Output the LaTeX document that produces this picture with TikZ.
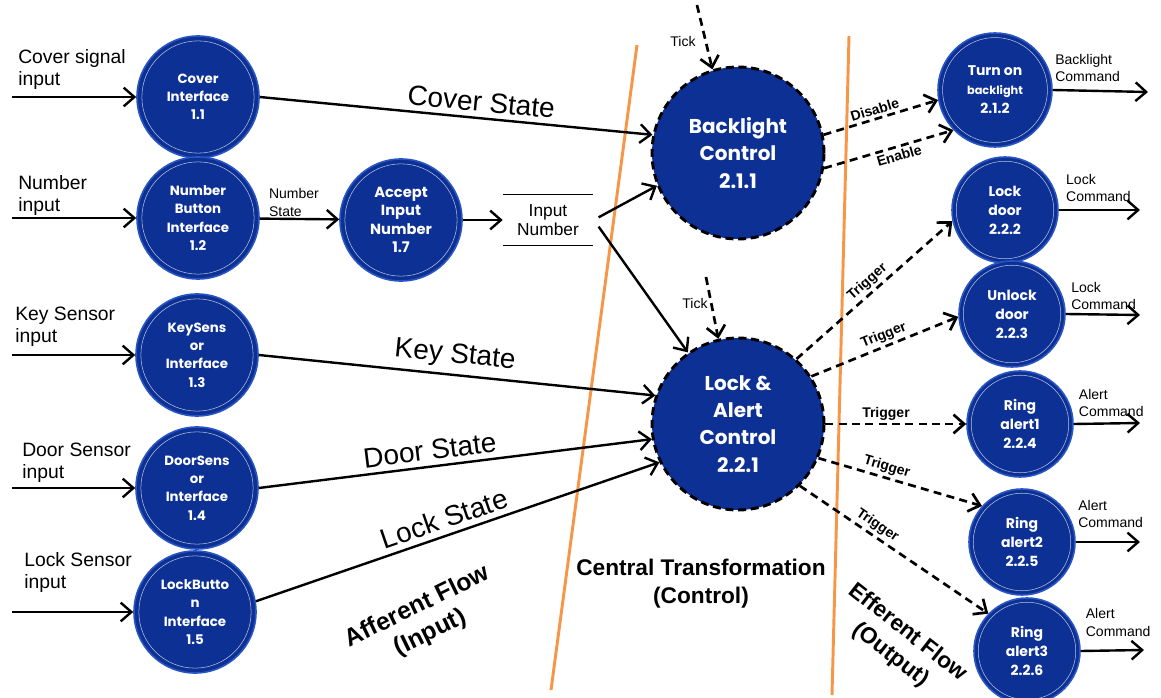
\documentclass[tikz,border=0pt]{standalone}
\usepackage{fontspec}
\setmainfont{Liberation Sans}
\newfontfamily\procfont{Poppins}
\usetikzlibrary{arrows.meta,positioning,calc}
\definecolor{procblue}{RGB}{12,48,148}
\definecolor{rimblue}{RGB}{40,85,195}
\definecolor{divorange}{RGB}{247,150,70}

\begin{document}
\begin{tikzpicture}[
    x=0.75pt, y=-0.75pt,
    proc/.style={circle, fill=procblue, draw=rimblue, line width=1.2pt,
        minimum size=#1, inner sep=0pt, text=white, align=center,
        path picture={\draw[white!70!procblue, line width=0.4pt]
            (path picture bounding box.center) circle[radius=0.46*#1];}},
    lfont/.style={font=\procfont\bfseries\fontsize{10pt}{13.7pt}\selectfont},
    rfont/.style={font=\procfont\bfseries\fontsize{10.5pt}{14.3pt}\selectfont},
    ctrl/.style={circle, fill=procblue, draw=black, line width=2.2pt,
        dash pattern=on 6pt off 3.5pt, minimum size=129pt, inner sep=0pt,
        text=white, align=center,
        font=\procfont\bfseries\fontsize{15pt}{20.5pt}\selectfont},
    flow/.style={-{Straight Barb[length=8pt,width=14pt]}, line width=1.8pt},
    sig/.style={flow, line width=2pt, dash pattern=on 6pt off 4pt},
    lbl/.style={font=\fontsize{14.5pt}{16.5pt}\selectfont, align=left, inner sep=0pt},
    statelbl/.style={font=\fontsize{21pt}{24pt}\selectfont, sloped, above, inner sep=4pt},
    tiny/.style={font=\fontsize{10.5pt}{13pt}\selectfont, align=left, inner sep=1pt},
    trig/.style={font=\bfseries\fontsize{10.5pt}{12pt}\selectfont, sloped, inner sep=2pt},
    section/.style={font=\bfseries\fontsize{17pt}{21pt}\selectfont, align=center},
    divider/.style={divorange, line width=2.2pt}
]
    \useasboundingbox (0,0) rectangle (1161,698);

    % Boundaries
    \draw[divider] (637,45) -- (551,690);
    \draw[divider] (849,36) -- (832,695);

    % Afferent side
    \node[proc=91.5pt, lfont] (cover) at (198,97) {Cover\\Interface\\1.1};
    \node[proc=91.5pt, lfont] (numbtn) at (198,218) {Number\\Button\\Interface\\1.2};
    \node[proc=91.5pt, lfont] (keysens) at (197,355) {KeySens\\or\\Interface\\1.3};
    \node[proc=91.5pt, lfont] (doorsens) at (197,488) {DoorSens\\or\\Interface\\1.4};
    \node[proc=91.5pt, lfont] (lockbtn) at (195,612) {LockButto\\n\\Interface\\1.5};
    \node[proc=91.5pt, font=\procfont\bfseries\fontsize{11pt}{13.7pt}\selectfont] (accept) at (401,220) {Accept\\Input\\Number\\1.7};

    \node[lbl, anchor=west] (lcover) at (18,70) {Cover signal\\input};
    \node[lbl, anchor=west] (lnumber) at (18,196) {Number\\input};
    \node[lbl, anchor=west] (lkey) at (15,327) {Key Sensor\\input};
    \node[lbl, anchor=west] (ldoor) at (22,463) {Door Sensor\\input};
    \node[lbl, anchor=west] (llock) at (24,573) {Lock Sensor\\input};

    \coordinate (incover) at (12,97);
    \coordinate (innumber) at (12,218);
    \coordinate (inkey) at (12,355);
    \coordinate (indoor) at (12,488);
    \coordinate (inlock) at (12,612);
    \draw[flow] (incover) -- (cover);
    \draw[flow] (innumber) -- (numbtn);
    \draw[flow] (inkey) -- (keysens);
    \draw[flow] (indoor) -- (doorsens);
    \draw[flow] (inlock) -- (lockbtn);

    % Data store
    \node[font=\fontsize{13pt}{14.3pt}\selectfont, align=center,
        minimum width=67.5pt, minimum height=38pt] (store) at (548,220) {Input\\Number};
    \draw[line width=1pt] (store.north west) -- (store.north east);
    \draw[line width=1pt] (store.south west) -- (store.south east);

    \draw[flow] (numbtn) -- (accept) node[tiny, pos=0.43, above] {Number\\State};
    \draw[flow] (accept) -- (store.west);

    % Central transformation
    \node[ctrl] (bl) at (738,153) {Backlight\\Control\\2.1.1};
    \node[ctrl] (la) at (738,424) {Lock \&\\Alert\\Control\\2.2.1};

    \draw[flow] (cover.east) -- (bl.168) node[statelbl, pos=0.56] {Cover State};
    \draw[flow] (keysens.east) -- (la.161) node[statelbl, pos=0.49] {Key State};
    \draw[flow] (doorsens.east) -- (la.190) node[statelbl, pos=0.44] {Door State};
    \draw[flow] (lockbtn.10) -- (la.206) node[statelbl, pos=0.48] {Lock State};
    \draw[flow] ([xshift=4pt,yshift=2pt]store.east) -- (bl.202);
    \draw[flow] ([xshift=4pt,yshift=-5pt]store.east) -- (la.125);

    \coordinate (tickbl) at (697,5);
    \coordinate (tickla) at (706,277);
    \draw[sig] (tickbl) -- (bl.107);
    \draw[sig] (tickla) -- (la.103);
    \node[tiny] (ticka) at (683,42) {Tick};
    \node[tiny] (tickb) at (695,303) {Tick};

    % Efferent side
    \node[proc=85.5pt, rfont] (turn) at (995,90) {Turn on\\{\fontsize{8.5pt}{10pt}\selectfont backlight}\\2.1.2};
    \node[proc=79.5pt, rfont] (lockdoor) at (1005,210) {Lock\\door\\2.2.2};
    \node[proc=79.5pt, rfont] (unlock) at (1012,314) {Unlock\\door\\2.2.3};
    \node[proc=79.5pt, rfont] (alerta) at (1020,424) {Ring\\alert1\\2.2.4};
    \node[proc=79.5pt, rfont] (alertb) at (1022,542) {Ring\\alert2\\2.2.5};
    \node[proc=79.5pt, rfont] (alertc) at (1027,651) {Ring\\alert3\\2.2.6};

    \draw[sig] (bl.12) -- (turn.190) node[trig, pos=0.47, above] {Disable};
    \draw[sig] (bl.350) -- (turn.224) node[trig, pos=0.56, below] {Enable};
    \draw[sig] (la.48) -- (lockdoor.192) node[trig, pos=0.5, above] {Trigger};
    \draw[sig] (la.33) -- (unlock.183) node[trig, pos=0.52, above] {Trigger};
    \draw[sig] (la.0) -- (alerta.180) node[trig, pos=0.43, above] {Trigger};
    \draw[sig] (la.337) -- (alertb.138) node[trig, pos=0.4, above] {Trigger};
    \draw[sig] (la.315) -- (alertc.136) node[trig, pos=0.38, above] {Trigger};

    \coordinate (outturn) at (1148,92);
    \coordinate (outlock) at (1140,210);
    \coordinate (outunlock) at (1140,315);
    \coordinate (outalerta) at (1140,423);
    \coordinate (outalertb) at (1140,542);
    \coordinate (outalertc) at (1144,650);
    \draw[flow] (turn.east) -- (outturn)
        node[tiny, pos=0, anchor=south west, yshift=4pt] {Backlight\\Command};
    \draw[flow] (lockdoor.east) -- (outlock)
        node[tiny, pos=0.06, anchor=south west, yshift=4pt] {Lock\\Command};
    \draw[flow] (unlock.east) -- (outunlock)
        node[tiny, pos=0.04, anchor=south west, yshift=1.5pt] {Lock\\Command};
    \draw[flow] (alerta.east) -- (outalerta)
        node[tiny, pos=0.04, anchor=south west, yshift=3.5pt] {Alert\\Command};
    \draw[flow] (alertb.east) -- (outalertb)
        node[tiny, pos=0, anchor=south west, yshift=8.5pt] {Alert\\Command};
    \draw[flow] (alertc.east) -- (outalertc)
        node[tiny, pos=0.04, anchor=south west, yshift=9pt] {Alert\\Command};

    % Section titles
    \node[section] (central) at (701,584) {Central Transformation\\(Control)};
    \node[section, font=\bfseries\fontsize{18.5pt}{22pt}\selectfont, rotate=26] (afferent) at (424,620) {Afferent Flow\\(Input)};
    \node[section, rotate=-38] (efferent) at (899,644) {Efferent Flow\\(Output)};
\end{tikzpicture}
\end{document}
